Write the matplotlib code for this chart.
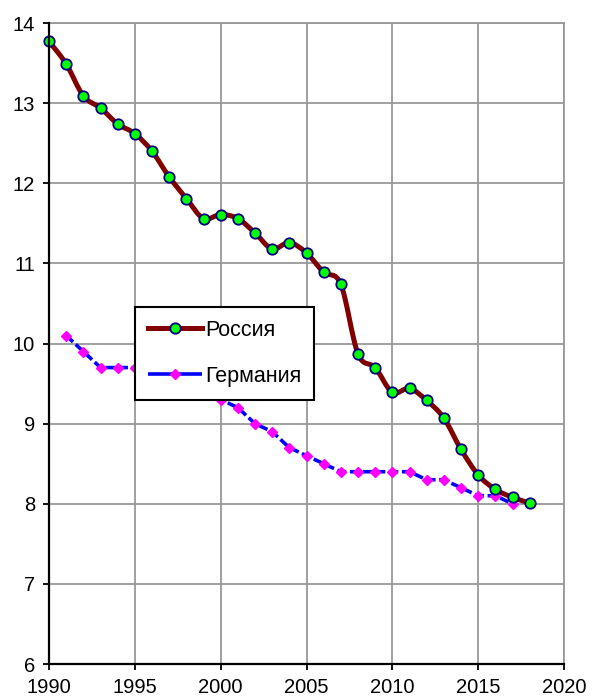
import numpy as np
import matplotlib

matplotlib.use("Agg")
import matplotlib.pyplot as plt
from matplotlib.lines import Line2D
from matplotlib.patches import PathPatch
from matplotlib.path import Path

plt.rcParams["font.family"] = ["Liberation Sans", "DejaVu Sans"]

# values
years_ru = list(range(1990, 2019))
russia = [13.77, 13.49, 13.09, 12.94, 12.74, 12.62, 12.40, 12.08, 11.81, 11.56,
          11.61, 11.56, 11.38, 11.18, 11.26, 11.13, 10.89, 10.74, 9.87, 9.70,
          9.39, 9.44, 9.29, 9.07, 8.68, 8.36, 8.18, 8.08, 8.01]
years_de = list(range(1991, 2018))
germany = [10.1, 9.9, 9.7, 9.7, 9.7, 9.6, 9.5, 9.4, 9.4, 9.3,
           9.2, 9.0, 8.9, 8.7, 8.6, 8.5, 8.4, 8.4, 8.4, 8.4,
           8.4, 8.3, 8.3, 8.2, 8.1, 8.1, 8.0]
labels = ["Россия", "Германия"]
x_ticks = list(range(1990, 2021, 5))
y_ticks = list(range(6, 15))

RU_LINE = "#800000"
RU_FACE = "#00ff00"
RU_EDGE = "#000080"
DE_LINE = "#0000ff"
DE_MARK = "#ff00ff"
GRID = "#999999"


def smooth_path(xs, ys) -> Path:
    """Excel-like smoothed line: Catmull-Rom segments as cubic Beziers."""
    pts = np.column_stack([xs, ys]).astype(float)
    n = len(pts)
    verts = [pts[0]]
    codes = [Path.MOVETO]
    for i in range(n - 1):
        p0 = pts[max(i - 1, 0)]
        p1 = pts[i]
        p2 = pts[i + 1]
        p3 = pts[min(i + 2, n - 1)]
        verts += [p1 + (p2 - p0) / 6, p2 - (p3 - p1) / 6, p2]
        codes += [Path.CURVE4] * 3
    return Path(verts, codes)


fig = plt.figure(figsize=(5.92, 7.0), dpi=100)
ax = fig.add_axes([0.0828, 0.0514, 0.8699, 0.9157])

ax.set_xlim(1990, 2020)
ax.set_ylim(6, 14)
ax.set_xticks(x_ticks)
ax.set_yticks(y_ticks)
ax.grid(True, color=GRID, linewidth=1.3, zorder=0)
ax.set_axisbelow(True)

# Germany: straight dashed segments
ax.plot(years_de, germany, color=DE_LINE, linewidth=2.6, dashes=(2.6, 1.0),
        zorder=3, clip_on=False)
ax.plot(years_de, germany, linestyle="none", marker="D", markersize=5,
        markerfacecolor=DE_MARK, markeredgecolor=DE_MARK, zorder=3.5, clip_on=False)

# Russia: smoothed line + markers
ax.add_patch(PathPatch(smooth_path(years_ru, russia), facecolor="none",
                       edgecolor=RU_LINE, linewidth=3.6, capstyle="round",
                       joinstyle="round", zorder=4))
ax.plot(years_ru, russia, linestyle="none", marker="o", markersize=7.5,
        markerfacecolor=RU_FACE, markeredgecolor=RU_EDGE, markeredgewidth=1.3,
        zorder=4.5, clip_on=False)

for side in ("top", "right"):
    ax.spines[side].set_color(GRID)
    ax.spines[side].set_linewidth(1.3)
for side in ("left", "bottom"):
    ax.spines[side].set_color("black")
    ax.spines[side].set_linewidth(1.6)
    ax.spines[side].set_zorder(6)

ax.tick_params(axis="both", direction="out", length=4, width=1.3,
               colors="black", labelsize=14.5, pad=6)

handles = [
    Line2D([], [], color=RU_LINE, linewidth=3.6, marker="o", markersize=7.5,
           markerfacecolor=RU_FACE, markeredgecolor=RU_EDGE, markeredgewidth=1.3),
    Line2D([], [], color=DE_LINE, linewidth=2.6, dashes=(7.0, 1.2), marker="D",
           markersize=5, markerfacecolor=DE_MARK, markeredgecolor=DE_MARK),
]
leg = ax.legend(handles, labels, loc="upper left", bbox_to_anchor=(0.167, 0.557),
                borderaxespad=0, fontsize=15.5, handlelength=2.5, handletextpad=0.15,
                labelspacing=1.15, borderpad=0.6, fancybox=False, framealpha=1,
                edgecolor="black", numpoints=1)
leg.get_frame().set_linewidth(1.5)
leg.set_zorder(10)

fig.savefig("out.png", dpi=100)
